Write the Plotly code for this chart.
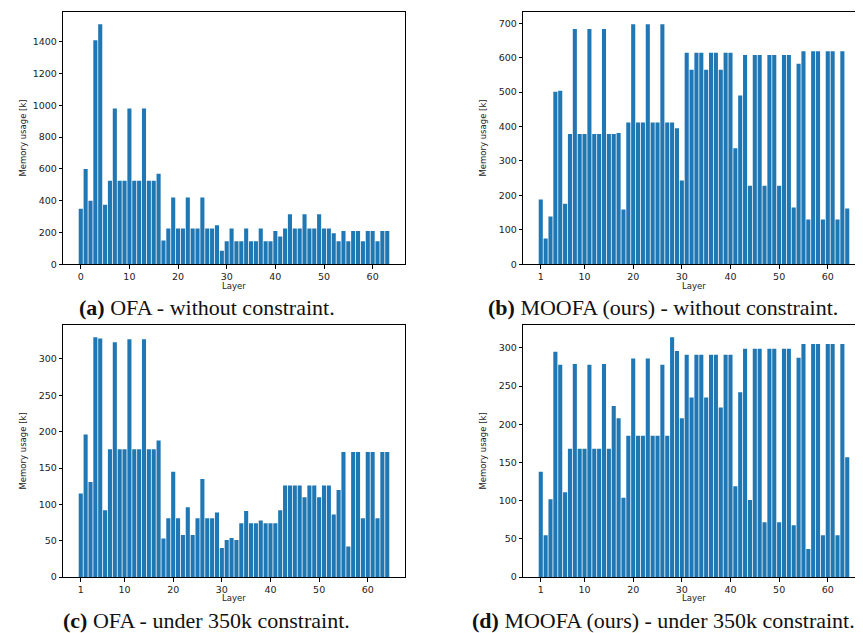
import plotly.graph_objects as go

# ---------------- data ----------------
layers_a = list(range(0, 64))
layers_bcd = list(range(1, 65))

mem_a = [350, 600, 400, 1410, 1510, 375, 525, 980, 525, 525,
         980, 525, 525, 980, 525, 525, 570, 150, 225, 420,
         225, 225, 420, 225, 225, 420, 225, 225, 245, 85,
         145, 225, 145, 145, 225, 145, 145, 225, 145, 145,
         210, 175, 225, 315, 225, 225, 315, 225, 225, 315,
         225, 225, 195, 145, 210, 145, 210, 210, 145, 210,
         210, 145, 210, 210]

mem_b = [188, 75, 139, 501, 504, 176, 378, 683, 378, 378,
         683, 378, 378, 683, 378, 378, 381, 159, 412, 697,
         412, 412, 697, 412, 412, 697, 412, 412, 395, 243,
         614, 565, 614, 614, 565, 614, 614, 565, 614, 614,
         337, 490, 608, 228, 608, 608, 228, 608, 608, 228,
         608, 608, 165, 582, 619, 130, 619, 619, 130, 619,
         619, 130, 619, 162]

mem_c = [115, 196, 131, 330, 328, 92, 176, 323, 176, 176,
         327, 176, 176, 327, 176, 176, 188, 53, 81, 145,
         81, 58, 96, 58, 81, 135, 81, 81, 89, 40,
         51, 54, 51, 74, 91, 74, 74, 78, 74, 74,
         74, 92, 126, 126, 126, 126, 110, 126, 126, 110,
         126, 126, 86, 120, 172, 42, 172, 172, 81, 172,
         172, 81, 172, 172]

mem_d = [138, 55, 102, 295, 278, 111, 168, 279, 168, 168,
         278, 168, 168, 279, 168, 224, 208, 104, 185, 286,
         185, 185, 286, 185, 185, 278, 185, 314, 296, 208,
         291, 235, 291, 291, 235, 291, 291, 222, 291, 291,
         119, 242, 299, 101, 299, 299, 72, 299, 299, 72,
         299, 299, 68, 287, 305, 37, 305, 305, 55, 305,
         305, 55, 305, 157]

xticks_a = [0, 10, 20, 30, 40, 50, 60]
xticks_bcd = [1, 10, 20, 30, 40, 50, 60]
yticks_a = [0, 200, 400, 600, 800, 1000, 1200, 1400]
yticks_b = [0, 100, 200, 300, 400, 500, 600, 700]
yticks_cd = [0, 50, 100, 150, 200, 250, 300]

captions = ["<b>(a)</b> OFA - without constraint.",
            "<b>(b)</b> MOOFA (ours) - without constraint.",
            "<b>(c)</b> OFA - under 350k constraint.",
            "<b>(d)</b> MOOFA (ours) - under 350k constraint."]
xlabel = "Layer"
ylabel = "Memory usage [k]"

# ---------------- layout geometry ----------------
W, H = 863, 633
BAR = "#1f77b4"
TICKFONT = dict(family="DejaVu Sans", size=9.5, color="#222222")
LABFONT = dict(family="DejaVu Sans", size=8.5, color="#222222")
CAPFONT = dict(family="Liberation Serif", size=22, color="#111111")

# pixel boxes: (left, right, top, bottom)
boxes = [(55.3, 396.7, 4.3, 258.3),
         (515.3, 856.7, 4.3, 258.3),
         (55.3, 396.7, 319.7, 573.7),
         (515.3, 856.7, 319.7, 573.7)]

series = [(layers_a, mem_a, xticks_a, yticks_a),
          (layers_bcd, mem_b, xticks_bcd, yticks_b),
          (layers_bcd, mem_c, xticks_bcd, yticks_cd),
          (layers_bcd, mem_d, xticks_bcd, yticks_cd)]

fig = go.Figure()
annotations = []
for i, ((l, r, t, b), (xs, ys, xt, yt)) in enumerate(zip(boxes, series)):
    n = "" if i == 0 else str(i + 1)
    fig.add_trace(go.Bar(x=xs, y=ys, marker=dict(color=BAR, line=dict(width=0)),
                         width=0.84, xaxis="x" + n, yaxis="y" + n, showlegend=False))
    lo = min(xs) - 0.4
    hi = max(xs) + 0.4
    pad = 0.05 * (hi - lo)
    common = dict(showline=True, linecolor="black", linewidth=1, mirror=True,
                  ticks="outside", ticklen=3.5, tickwidth=1, tickcolor="black",
                  showgrid=False, zeroline=False, tickfont=TICKFONT)
    fig.update_layout(**{
        "xaxis" + n: dict(domain=[l / W, r / W], anchor="y" + n,
                          range=[lo - pad, hi + pad], tickmode="array",
                          tickvals=xt, **common),
        "yaxis" + n: dict(domain=[1 - b / H, 1 - t / H], anchor="x" + n,
                          range=[0, 1.05 * max(ys)], tickmode="array",
                          tickvals=yt, **common),
    })
    cx = (l + r) / 2
    annotations.append(dict(text=xlabel, x=cx / W, y=1 - (b + 21.5) / H,
                            xref="paper", yref="paper", showarrow=False,
                            xanchor="center", yanchor="middle", font=LABFONT))
    annotations.append(dict(text=ylabel, x=(l - 40) / W, y=1 - (t + b) / 2 / H,
                            xref="paper", yref="paper", showarrow=False, textangle=-90,
                            xanchor="center", yanchor="middle", font=LABFONT))
    capx = 198.5 if i % 2 == 0 else 655
    annotations.append(dict(text=captions[i], x=capx / W, y=1 - (b + 44) / H,
                            xref="paper", yref="paper", showarrow=False,
                            xanchor="center", yanchor="middle", font=CAPFONT))

fig.update_layout(width=W, height=H, margin=dict(l=0, r=0, t=0, b=0),
                  paper_bgcolor="white", plot_bgcolor="white",
                  bargap=0.2, annotations=annotations)

fig.write_html("out.html")
